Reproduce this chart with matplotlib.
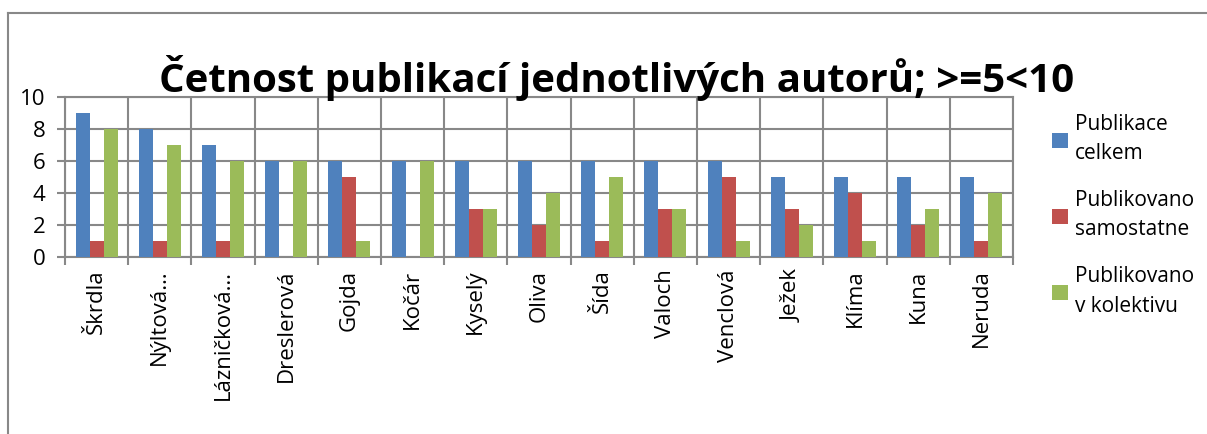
import numpy as np
import matplotlib
matplotlib.use("Agg")
import matplotlib.pyplot as plt
from matplotlib.lines import Line2D

plt.rcParams['font.family'] = ['Open Sans', 'DejaVu Sans']

# Data
authors = ["Škrdla", "Nýltová…", "Lázničková…", "Dreslerová", "Gojda", "Kočár",
           "Kyselý", "Oliva", "Šída", "Valoch", "Venclová", "Ježek", "Klíma",
           "Kuna", "Neruda"]
celkem = [9, 8, 7, 6, 6, 6, 6, 6, 6, 6, 6, 5, 5, 5, 5]
samostatne = [1, 1, 1, 0, 5, 0, 3, 2, 1, 3, 5, 3, 4, 2, 1]
kolektiv = [8, 7, 6, 6, 1, 6, 3, 4, 5, 3, 1, 2, 1, 3, 4]
series_names = ["Publikace\ncelkem", "Publikovano\nsamostatne", "Publikovano\nv kolektivu"]
colors = ["#4F81BD", "#C0504D", "#9BBB59"]
yticks = [0, 2, 4, 6, 8, 10]

W, H = 1207, 434
fig = plt.figure(figsize=(W / 100, H / 100), dpi=100)
ax = fig.add_axes([65 / W, 1 - 257 / H, (1013 - 65) / W, (257 - 97) / H])

x = np.arange(len(authors))
bw = 0.222
for i, (vals, name, c) in enumerate(zip([celkem, samostatne, kolektiv], series_names, colors)):
    ax.bar(x + (i - 1) * bw, vals, width=bw, color=c, label=name, zorder=3)

grid_c = "#888888"
ax.set_xlim(-0.5, len(authors) - 0.5)
ax.set_ylim(0, 10)
ax.set_yticks(yticks)
ax.set_yticklabels([str(v) for v in yticks], fontsize=16)
ax.tick_params(axis='y', length=6, width=1.5, color=grid_c, pad=8)

# category boundaries as ticks / vertical grid
ax.set_xticks(np.arange(len(authors) + 1) - 0.5)
ax.set_xticklabels([])
ax.tick_params(axis='x', length=6, width=1.5, color=grid_c)
ax.set_xticks(x, minor=True)
ax.set_xticklabels(authors, minor=True, rotation=90, fontsize=16, va='top', ha='center')
ax.tick_params(axis='x', which='minor', length=0, pad=9)

ax.grid(True, which='major', color=grid_c, linewidth=1.5, zorder=0)
for s in ax.spines.values():
    s.set_color(grid_c)
    s.set_linewidth(1.5)

fig.text(617 / W, 1 - 92 / H, "Četnost publikací jednotlivých autorů; >=5<10",
         fontsize=29, fontweight='bold', ha='center', va='baseline')

leg = fig.legend(loc='upper left', bbox_to_anchor=(1042 / W, 1 - 104 / H),
                 frameon=False, fontsize=15, handlelength=0.75, handleheight=0.75,
                 handletextpad=0.35, labelspacing=1.25, borderpad=0)
for t in leg.get_texts():
    t.set_linespacing(1.5)

# outer chart frame
fig.add_artist(Line2D([8 / W, 8 / W], [0, 1 - 13 / H], transform=fig.transFigure,
                      color=grid_c, linewidth=1.5))
fig.add_artist(Line2D([8 / W, 1], [1 - 13 / H, 1 - 13 / H], transform=fig.transFigure,
                      color=grid_c, linewidth=1.5))

fig.savefig("out.png", dpi=100)
